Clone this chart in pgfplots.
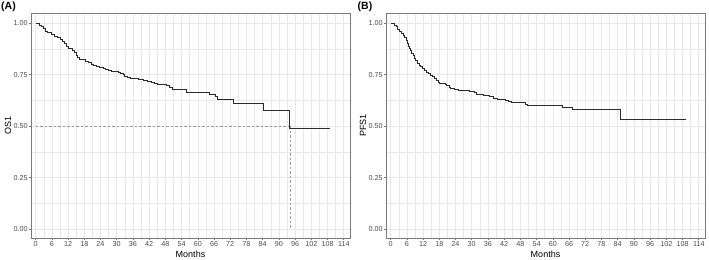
\documentclass[border=0pt]{standalone}
\usepackage{fontspec}
\setmainfont{Liberation Sans}
\usepackage{pgfplots}
\pgfplotsset{compat=1.18}
\definecolor{gtxt}{HTML}{4D4D4D}
\definecolor{gborder}{HTML}{7A7A7A}
\definecolor{ggrid}{HTML}{E8E8E8}
\definecolor{kmline}{HTML}{2B2B2B}
\definecolor{dashc}{HTML}{9A9A9A}

\pgfplotsset{kmstyle/.style={
  scale only axis, width=319bp, height=225bp,
  xmin=-1.7, xmax=116.3, ymin=-0.044, ymax=1.050,
  xtick={0,6,...,114}, minor xtick={3,9,...,111},
  ytick={0,0.25,0.5,0.75,1}, yticklabels={0.00,0.25,0.50,0.75,1.00},
  minor ytick={0.125,0.375,0.625,0.875},
  grid=both,
  major grid style={color=ggrid, line width=0.6bp},
  minor grid style={color=ggrid, line width=0.4bp},
  axis line style={gborder, line width=0.8bp},
  tick style={gborder, line width=0.6bp},
  tick align=outside, major tick length=2.2bp, minor tick length=0pt,
  xtick pos=bottom, ytick pos=left,
  /pgf/number format/assume math mode=true,
  xticklabel style={font=\fontsize{7.2bp}{8.5bp}\selectfont, text=gtxt, inner sep=1bp},
  yticklabel style={font=\fontsize{7.2bp}{8.5bp}\selectfont, text=gtxt, inner sep=1bp},
  xlabel=Months,
  xlabel style={font=\fontsize{9bp}{10bp}\selectfont, at={(axis description cs:0.5,-0.071)}, anchor=center},
  ylabel style={font=\fontsize{9bp}{10bp}\selectfont, at={(axis description cs:-0.072,0.5)}, anchor=center},
}}

\pgfplotstableread{
x y
0 1.000
1.5 0.992
2.2 0.984
3.0 0.976
3.8 0.962
4.5 0.954
5.8 0.946
7.0 0.938
8.0 0.930
9.0 0.922
9.8 0.911
10.5 0.900
11.5 0.890
12.2 0.880
13.5 0.870
14.3 0.858
15.0 0.846
15.6 0.834
16.2 0.826
17.5 0.822
18.5 0.814
19.5 0.808
20.5 0.800
21.5 0.795
22.5 0.790
23.5 0.786
25.0 0.781
26.0 0.776
27.0 0.770
28.0 0.766
30.5 0.762
31.5 0.757
32.5 0.750
33.0 0.744
34.0 0.737
35.0 0.733
38.0 0.728
40.0 0.723
41.5 0.718
43.0 0.712
44.0 0.706
45.0 0.701
48.5 0.696
49.5 0.690
50.5 0.679
55.6 0.665
64.4 0.655
66.6 0.643
67.2 0.630
73.1 0.611
84.2 0.574
94.0 0.491
108.8 0.491
}\osdata

\pgfplotstableread{
x y
0 1.000
1.3 0.992
2.0 0.984
2.6 0.971
3.2 0.959
4.0 0.951
4.6 0.943
5.2 0.931
5.7 0.919
6.2 0.903
6.6 0.890
7.0 0.878
7.4 0.866
7.8 0.854
8.3 0.842
8.8 0.830
9.3 0.820
9.9 0.806
10.5 0.797
11.1 0.789
11.8 0.779
12.4 0.770
13.2 0.763
14.0 0.757
14.8 0.748
15.5 0.741
16.3 0.731
17.0 0.721
17.6 0.712
18.2 0.708
20.4 0.703
20.8 0.697
21.8 0.690
22.3 0.684
23.5 0.680
25.0 0.676
27.0 0.672
29.0 0.668
31.0 0.662
31.8 0.656
33.0 0.652
34.5 0.648
36.5 0.643
38.0 0.636
39.5 0.632
42.5 0.627
43.5 0.621
44.5 0.617
48.5 0.613
50.0 0.606
50.7 0.602
63.7 0.592
67.1 0.579
84.9 0.532
109.4 0.532
}\pfsdata

\begin{document}
\begin{tikzpicture}
\useasboundingbox (0,0) rectangle (709bp,260bp);
\begin{axis}[kmstyle, at={(31bp,22bp)}, anchor=south west, ylabel=OS1]
\addplot[dashc, line width=0.6bp, dash pattern=on 2.5bp off 2bp] coordinates {(0,0.5) (94.0,0.5)};
\addplot[dashc, line width=0.6bp, dash pattern=on 2.5bp off 2bp] coordinates {(94.3,0.5) (94.3,0)};
\addplot[const plot, kmline, line width=0.8bp] table[x=x,y=y] {\osdata};
\end{axis}
\begin{axis}[kmstyle, at={(386bp,22bp)}, anchor=south west, ylabel=PFS1]
\addplot[const plot, kmline, line width=0.8bp] table[x=x,y=y] {\pfsdata};
\end{axis}
\node[anchor=base west, inner sep=0pt, font=\fontsize{10.5bp}{12bp}\selectfont\bfseries] at (1bp,250.5bp) {(A)};
\node[anchor=base west, inner sep=0pt, font=\fontsize{10.5bp}{12bp}\selectfont\bfseries] at (357.5bp,250.5bp) {(B)};
\end{tikzpicture}
\end{document}
